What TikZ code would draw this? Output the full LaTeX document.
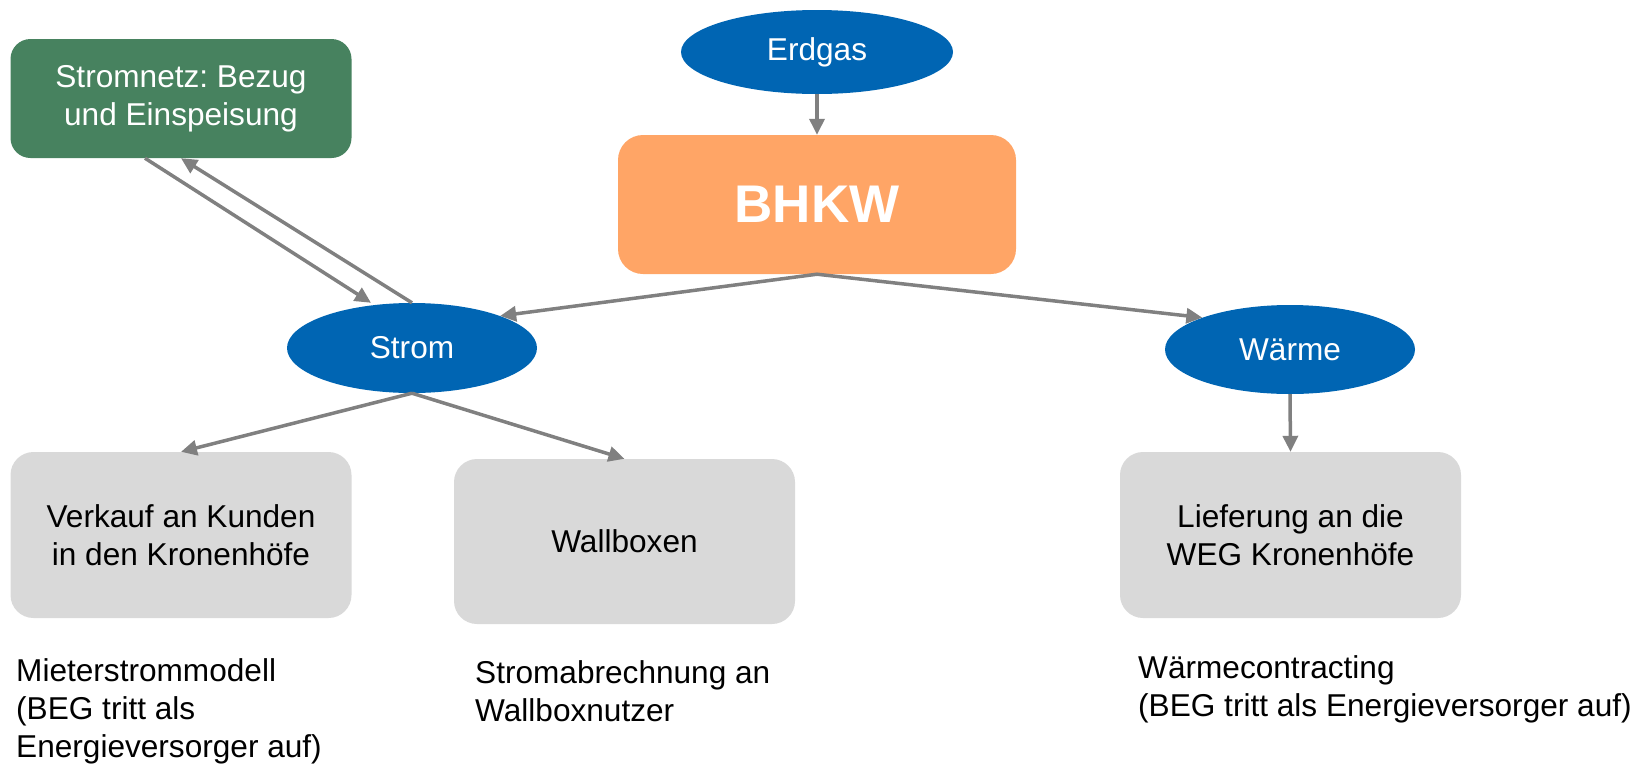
\documentclass[tikz,border=0pt]{standalone}
\usepackage{fontspec}
\setmainfont{Liberation Sans}
\usetikzlibrary{shapes.geometric,arrows.meta}
\definecolor{flowblue}{RGB}{0,101,179}
\definecolor{gridgreen}{RGB}{71,130,95}
\definecolor{bhkworange}{RGB}{255,165,102}
\definecolor{boxgray}{RGB}{217,217,217}
\definecolor{arrowgray}{RGB}{128,128,128}
\frenchspacing

\begin{document}
\begin{tikzpicture}[
		x={(1pt,0pt)},
		y={(0pt,-1pt)},
		every node/.style={font=\fontsize{31.6}{37.7}\selectfont},
		medium/.style={ellipse,fill=flowblue,text=white,inner sep=0pt,minimum width=250pt,minimum height=89pt},
		usebox/.style={rectangle,rounded corners=23pt,fill=boxgray,align=center,inner sep=0pt,minimum width=341pt,minimum height=166pt},
		note/.style={anchor=north west,align=left,inner sep=0pt},
		flow/.style={draw=arrowgray,line width=3.5pt,-{Triangle[length=16pt,width=15pt]}},
	]
		\useasboundingbox (0,0) rectangle (1652,764);

		% sources
		\node[medium,minimum width=272pt,minimum height=84pt] (Erdgas) at (817,52) {Erdgas};
		\node[rectangle,rounded corners=25pt,fill=bhkworange,text=white,minimum width=398pt,minimum height=139pt,font=\fontsize{53}{60}\selectfont\bfseries] (BHKW) at (817,204.5) {BHKW};
		\node[rectangle,rounded corners=20pt,fill=gridgreen,text=white,align=center,minimum width=341pt,minimum height=119pt] (Netz) at (181,98.5) {Stromnetz: Bezug\\und Einspeisung};

		% products
		\node[medium,minimum height=90pt] (Strom) at (412,348) {Strom};
		\node[medium] (Waerme) at (1290,349.5) {Wärme};

		% uses
		\node[usebox] (Verkauf) at (181,535) {Verkauf an Kunden\\in den Kronenhöfe};
		\node[usebox,minimum height=165pt] (Wallbox) at (624.5,541.5) {Wallboxen};
		\node[usebox] (Lieferung) at (1290.5,535) {Lieferung an die\\WEG Kronenhöfe};

		% notes
		\node[note] (MieterNote) at (16,658.5) {Mieterstrommodell\\(BEG tritt als\\Energieversorger auf)};
		\node[note] (WallboxNote) at (475,660.5) {Stromabrechnung an\\Wallboxnutzer};
		\node[note] (WaermeNote) at (1138,655.5) {Wärmecontracting\\(BEG tritt als Energieversorger auf)};

		\draw[flow] (Erdgas.south) -- (BHKW.north);
		\draw[flow] (BHKW.south) -- (Strom.20);
		\draw[flow] (BHKW.south) -- (Waerme.160);
		\draw[flow] ([xshift=-36pt]Netz.south) -- ([xshift=-41pt]Strom.north);
		\draw[flow] (Strom.north) -- (Netz.south);
		\draw[flow] (Strom.south) -- (Verkauf.north);
		\draw[flow] (Strom.south) -- (Wallbox.north);
		\draw[flow] (Waerme.south) -- (Lieferung.north);
	\end{tikzpicture}
\end{document}
